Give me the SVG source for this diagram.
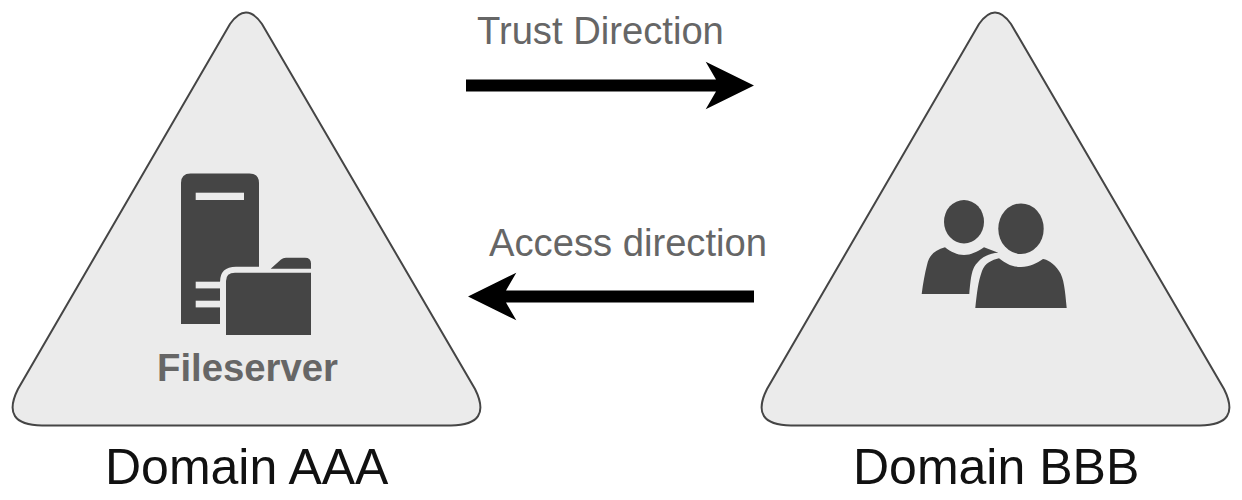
<svg xmlns="http://www.w3.org/2000/svg" width="1242" height="500" viewBox="0 0 1242 500">
<style>
text{font-family:"Liberation Sans",Arial,sans-serif}
.tri{fill:#ebebeb;stroke:#454545;stroke-width:2}
.ico{fill:#454545}
.slot{fill:#ebebeb}
.lbl{fill:#666;font-size:38.200px}
.dom{fill:#111;font-size:50px}
.arrow{fill:#000}
</style>
<rect width="1242" height="500" fill="#fff"/>
<g id="domain-aaa">
<path class="tri" d="M230 24Q246 1 262 24L475 389Q493 425 451 425.500L42 425.500Q0 425 18 389Z"/>
<text class="dom" x="105" y="484">Domain AAA</text>
</g>
<g id="fileserver">
<path class="ico" d="M181 183Q181 173.500 190.500 173.500L249.500 173.500Q259 173.500 259 183L259 266.700L236 266.700Q220 266.700 220 282L220 324L181 324Z"/>
<rect class="slot" x="195.700" y="192.700" width="48.300" height="7.300"/>
<rect class="slot" x="195.700" y="281.700" width="24.300" height="6.700"/>
<rect class="slot" x="195.700" y="300.700" width="24.300" height="6.700"/>
<path class="ico" d="M226 281Q226 272.700 235 272.700L311 272.700L311 335L226 335Z"/>
<path class="ico" d="M270.700 268.700L281 259.500Q283 257.700 286 257.700L305 257.700Q311 257.700 311 263.500L311 268.700Z"/>
<text x="157" y="381" fill="#666" font-size="38.300" font-weight="700">Fileserver</text>
</g>
<g id="domain-bbb">
<path class="tri" d="M979 24Q995 1 1011 24L1224 389Q1242 425 1200 425.500L791 425.500Q749 425 767 389Z"/>
<text class="dom" x="853" y="484">Domain BBB</text>
</g>
<g id="users">
<ellipse class="ico" cx="964" cy="221.700" rx="20" ry="21.700"/>
<ellipse class="ico" cx="1021" cy="228.700" rx="22.700" ry="25.300"/>
<path class="ico" d="M921.700 294L969.300 294C971 275 972 268 978 262C982 257 990 253 998.300 252.700L984 247.300C977 252 971 255 964 255C957 255 951 252 945 247.300C935 250 929 255 927 265C925 273 923 283 921.700 294Z"/>
<path class="ico" d="M975.300 308L1066.700 308C1065 290 1064 278 1059 271C1054 263 1046 259 1043 259C1037 263 1030 267 1021 267C1011 267 1005 263 999 258.300C992 260 985 263 982 271C978 282 977 293 975.300 308Z"/>
</g>
<g id="connectors">
<path class="arrow" d="M466 79.500L716 79.500L705.700 61.700L754 85.500L705.700 109.300L716 91.500L466 91.500Z"/>
<path class="arrow" d="M754 290.500L506 290.500L516.300 272.700L468 296.500L516.300 320.300L506 302.500L754 302.500Z"/>
</g>
<text class="lbl" x="477" y="44">Trust Direction</text>
<text class="lbl" x="489" y="256">Access direction</text>
</svg>
